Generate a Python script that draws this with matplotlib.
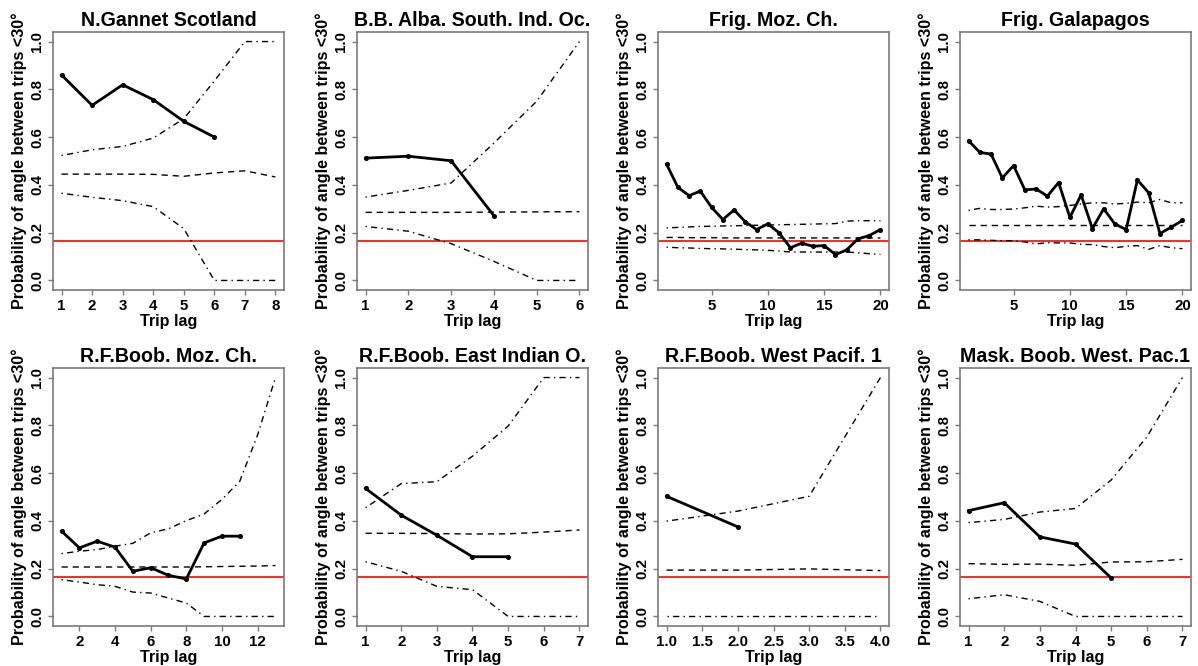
import numpy as np
import matplotlib
matplotlib.use("Agg")
import matplotlib.pyplot as plt

plt.rcParams['font.family'] = ['Liberation Sans', 'DejaVu Sans']
plt.rcParams['font.weight'] = 'bold'

titles = ["N.Gannet Scotland", "B.B. Alba. South. Ind. Oc.", "Frig. Moz. Ch.", "Frig. Galapagos",
          "R.F.Boob. Moz. Ch.", "R.F.Boob. East Indian O.", "R.F.Boob. West Pacif. 1",
          "Mask. Boob. West. Pac.1"]

# Panel 1: N.Gannet Scotland
obs1 = [0.860, 0.733, 0.819, 0.757, 0.666, 0.600]
up1 = [0.523, 0.547, 0.561, 0.596, 0.677, 0.835, 1.0, 1.0]
mean1 = [0.445, 0.445, 0.445, 0.444, 0.436, 0.450, 0.459, 0.433]
low1 = [0.365, 0.348, 0.334, 0.309, 0.217, 0.0, 0.0, 0.0]
ticks1 = [1, 2, 3, 4, 5, 6, 7, 8]

# Panel 2: B.B. Alba. South. Ind. Oc.
obs2 = [0.512, 0.520, 0.501, 0.271]
up2 = [0.349, 0.377, 0.408, 0.575, 0.750, 1.0]
mean2 = [0.285, 0.285, 0.285, 0.286, 0.287, 0.288]
low2 = [0.226, 0.206, 0.154, 0.080, 0.0, 0.0]
ticks2 = [1, 2, 3, 4, 5, 6]

# Panel 3: Frig. Moz. Ch.
obs3 = [0.487, 0.390, 0.355, 0.374, 0.306, 0.255, 0.295, 0.245, 0.213, 0.237,
        0.199, 0.137, 0.156, 0.143, 0.146, 0.108, 0.128, 0.174, 0.188, 0.213]
up3 = [0.220, 0.222, 0.224, 0.226, 0.227, 0.228, 0.229, 0.230, 0.231, 0.232,
       0.233, 0.234, 0.235, 0.236, 0.237, 0.238, 0.248, 0.250, 0.250, 0.250]
mean3 = [0.180, 0.180, 0.179, 0.179, 0.179, 0.178, 0.178, 0.178, 0.178, 0.178,
         0.178, 0.178, 0.178, 0.178, 0.178, 0.178, 0.178, 0.178, 0.178, 0.178]
low3 = [0.139, 0.137, 0.136, 0.134, 0.133, 0.132, 0.131, 0.129, 0.128, 0.126,
        0.123, 0.119, 0.119, 0.119, 0.119, 0.119, 0.119, 0.116, 0.112, 0.109]
ticks3 = [5, 10, 15, 20]

# Panel 4: Frig. Galapagos
obs4 = [0.585, 0.536, 0.529, 0.429, 0.481, 0.379, 0.383, 0.353, 0.410, 0.264,
        0.358, 0.217, 0.300, 0.236, 0.213, 0.421, 0.367, 0.196, 0.223, 0.251]
up4 = [0.293, 0.302, 0.297, 0.297, 0.299, 0.304, 0.311, 0.307, 0.309, 0.314,
       0.320, 0.325, 0.325, 0.320, 0.323, 0.328, 0.325, 0.339, 0.325, 0.325]
mean4 = [0.231, 0.231, 0.231, 0.231, 0.231, 0.231, 0.231, 0.231, 0.231, 0.231,
         0.231, 0.231, 0.231, 0.231, 0.231, 0.231, 0.231, 0.231, 0.231, 0.231]
low4 = [0.170, 0.170, 0.168, 0.166, 0.166, 0.161, 0.153, 0.158, 0.157, 0.157,
        0.151, 0.150, 0.142, 0.137, 0.143, 0.146, 0.130, 0.146, 0.137, 0.133]
ticks4 = [5, 10, 15, 20]

# Panel 5: R.F.Boob. Moz. Ch.
obs5 = [0.357, 0.287, 0.315, 0.290, 0.189, 0.204, 0.172, 0.157, 0.308, 0.336, 0.336]
up5 = [0.263, 0.273, 0.280, 0.294, 0.306, 0.350, 0.367, 0.401, 0.429, 0.490, 0.566, 0.760, 1.0]
mean5 = [0.207, 0.207, 0.207, 0.207, 0.207, 0.207, 0.207, 0.207, 0.208, 0.209, 0.210, 0.211, 0.213]
low5 = [0.154, 0.144, 0.133, 0.126, 0.102, 0.098, 0.077, 0.056, 0.0, 0.0, 0.0, 0.0, 0.0]
ticks5 = [2, 4, 6, 8, 10, 12]

# Panel 6: R.F.Boob. East Indian O.
obs6 = [0.536, 0.424, 0.340, 0.250, 0.250]
up6 = [0.455, 0.556, 0.564, 0.671, 0.797, 1.0, 1.0]
mean6 = [0.348, 0.348, 0.347, 0.345, 0.346, 0.353, 0.362]
low6 = [0.229, 0.189, 0.126, 0.112, 0.0, 0.0, 0.0]
ticks6 = [1, 2, 3, 4, 5, 6, 7]

# Panel 7: R.F.Boob. West Pacif. 1
obs7 = [0.503, 0.375]
up7 = [0.399, 0.441, 0.503, 1.0]
mean7 = [0.194, 0.194, 0.199, 0.192]
low7 = [0.0, 0.0, 0.0, 0.0]
ticks7 = [1.0, 1.5, 2.0, 2.5, 3.0, 3.5, 4.0]

# Panel 8: Mask. Boob. West. Pac.1
obs8 = [0.443, 0.476, 0.333, 0.303, 0.161]
up8 = [0.393, 0.406, 0.437, 0.452, 0.571, 0.751, 1.0]
mean8 = [0.221, 0.218, 0.219, 0.214, 0.228, 0.229, 0.239]
low8 = [0.074, 0.091, 0.063, 0.0, 0.0, 0.0, 0.0]
ticks8 = [1, 2, 3, 4, 5, 6, 7]

baseline = 1.0 / 6.0
yticks = [0.0, 0.2, 0.4, 0.6, 0.8, 1.0]

panels = [
    (obs1, up1, mean1, low1, ticks1),
    (obs2, up2, mean2, low2, ticks2),
    (obs3, up3, mean3, low3, ticks3),
    (obs4, up4, mean4, low4, ticks4),
    (obs5, up5, mean5, low5, ticks5),
    (obs6, up6, mean6, low6, ticks6),
    (obs7, up7, mean7, low7, ticks7),
    (obs8, up8, mean8, low8, ticks8),
]

W, H = 1198, 666
fig = plt.figure(figsize=(W / 100, H / 100), dpi=100)

col_left = [53, 357, 658, 960]
col_w = 231
row_top = [32, 368]
row_h = 258

frame_col = '#7a7a7a'
for i, (obs, up, mean, low, xt) in enumerate(panels):
    r, c = divmod(i, 4)
    l = col_left[c] / W
    b = 1 - (row_top[r] + row_h) / H
    ax = fig.add_axes([l, b, col_w / W, row_h / H])
    xe = np.arange(1, len(up) + 1)
    xo = np.arange(1, len(obs) + 1)
    ax.axhline(baseline, color='#ff0000', lw=1.2, zorder=1)
    ax.plot(xe, up, color='black', lw=1.0, dashes=(1, 3, 4.5, 3), zorder=2)
    ax.plot(xe, low, color='black', lw=1.0, dashes=(1, 3, 4.5, 3), zorder=2)
    ax.plot(xe, mean, color='black', lw=1.0, dashes=(4.5, 3.5), zorder=2)
    ax.plot(xo, obs, color='black', lw=2.0, marker='o', ms=2.6, zorder=3)
    x0, x1 = xe[0], xe[-1]
    rng = x1 - x0
    ax.set_xlim(x0 - 0.04 * rng, x1 + 0.04 * rng)
    ax.set_ylim(-0.04, 1.04)
    ax.set_xticks(xt)
    if i == 6:
        ax.set_xticklabels([f"{t:.1f}" for t in xt])
    else:
        ax.set_xticklabels([str(t) for t in xt])
    ax.set_yticks(yticks)
    ax.set_yticklabels([f"{t:.1f}" for t in yticks], rotation=90, va='center')
    for s in ax.spines.values():
        s.set_color(frame_col)
        s.set_linewidth(1.2)
    ax.tick_params(axis='both', colors=frame_col, labelcolor='black', length=3.5,
                   width=1.0, labelsize=10.8, pad=3)
    ax.set_title(titles[i], fontsize=14.1, fontweight='bold', pad=4)
    ax.set_xlabel("Trip lag", fontsize=11.6, fontweight='bold', labelpad=1)
    ax.set_ylabel("Probability of angle between trips <30°", fontsize=11.6,
                  fontweight='bold', labelpad=2)

fig.savefig("out.png", dpi=100)
